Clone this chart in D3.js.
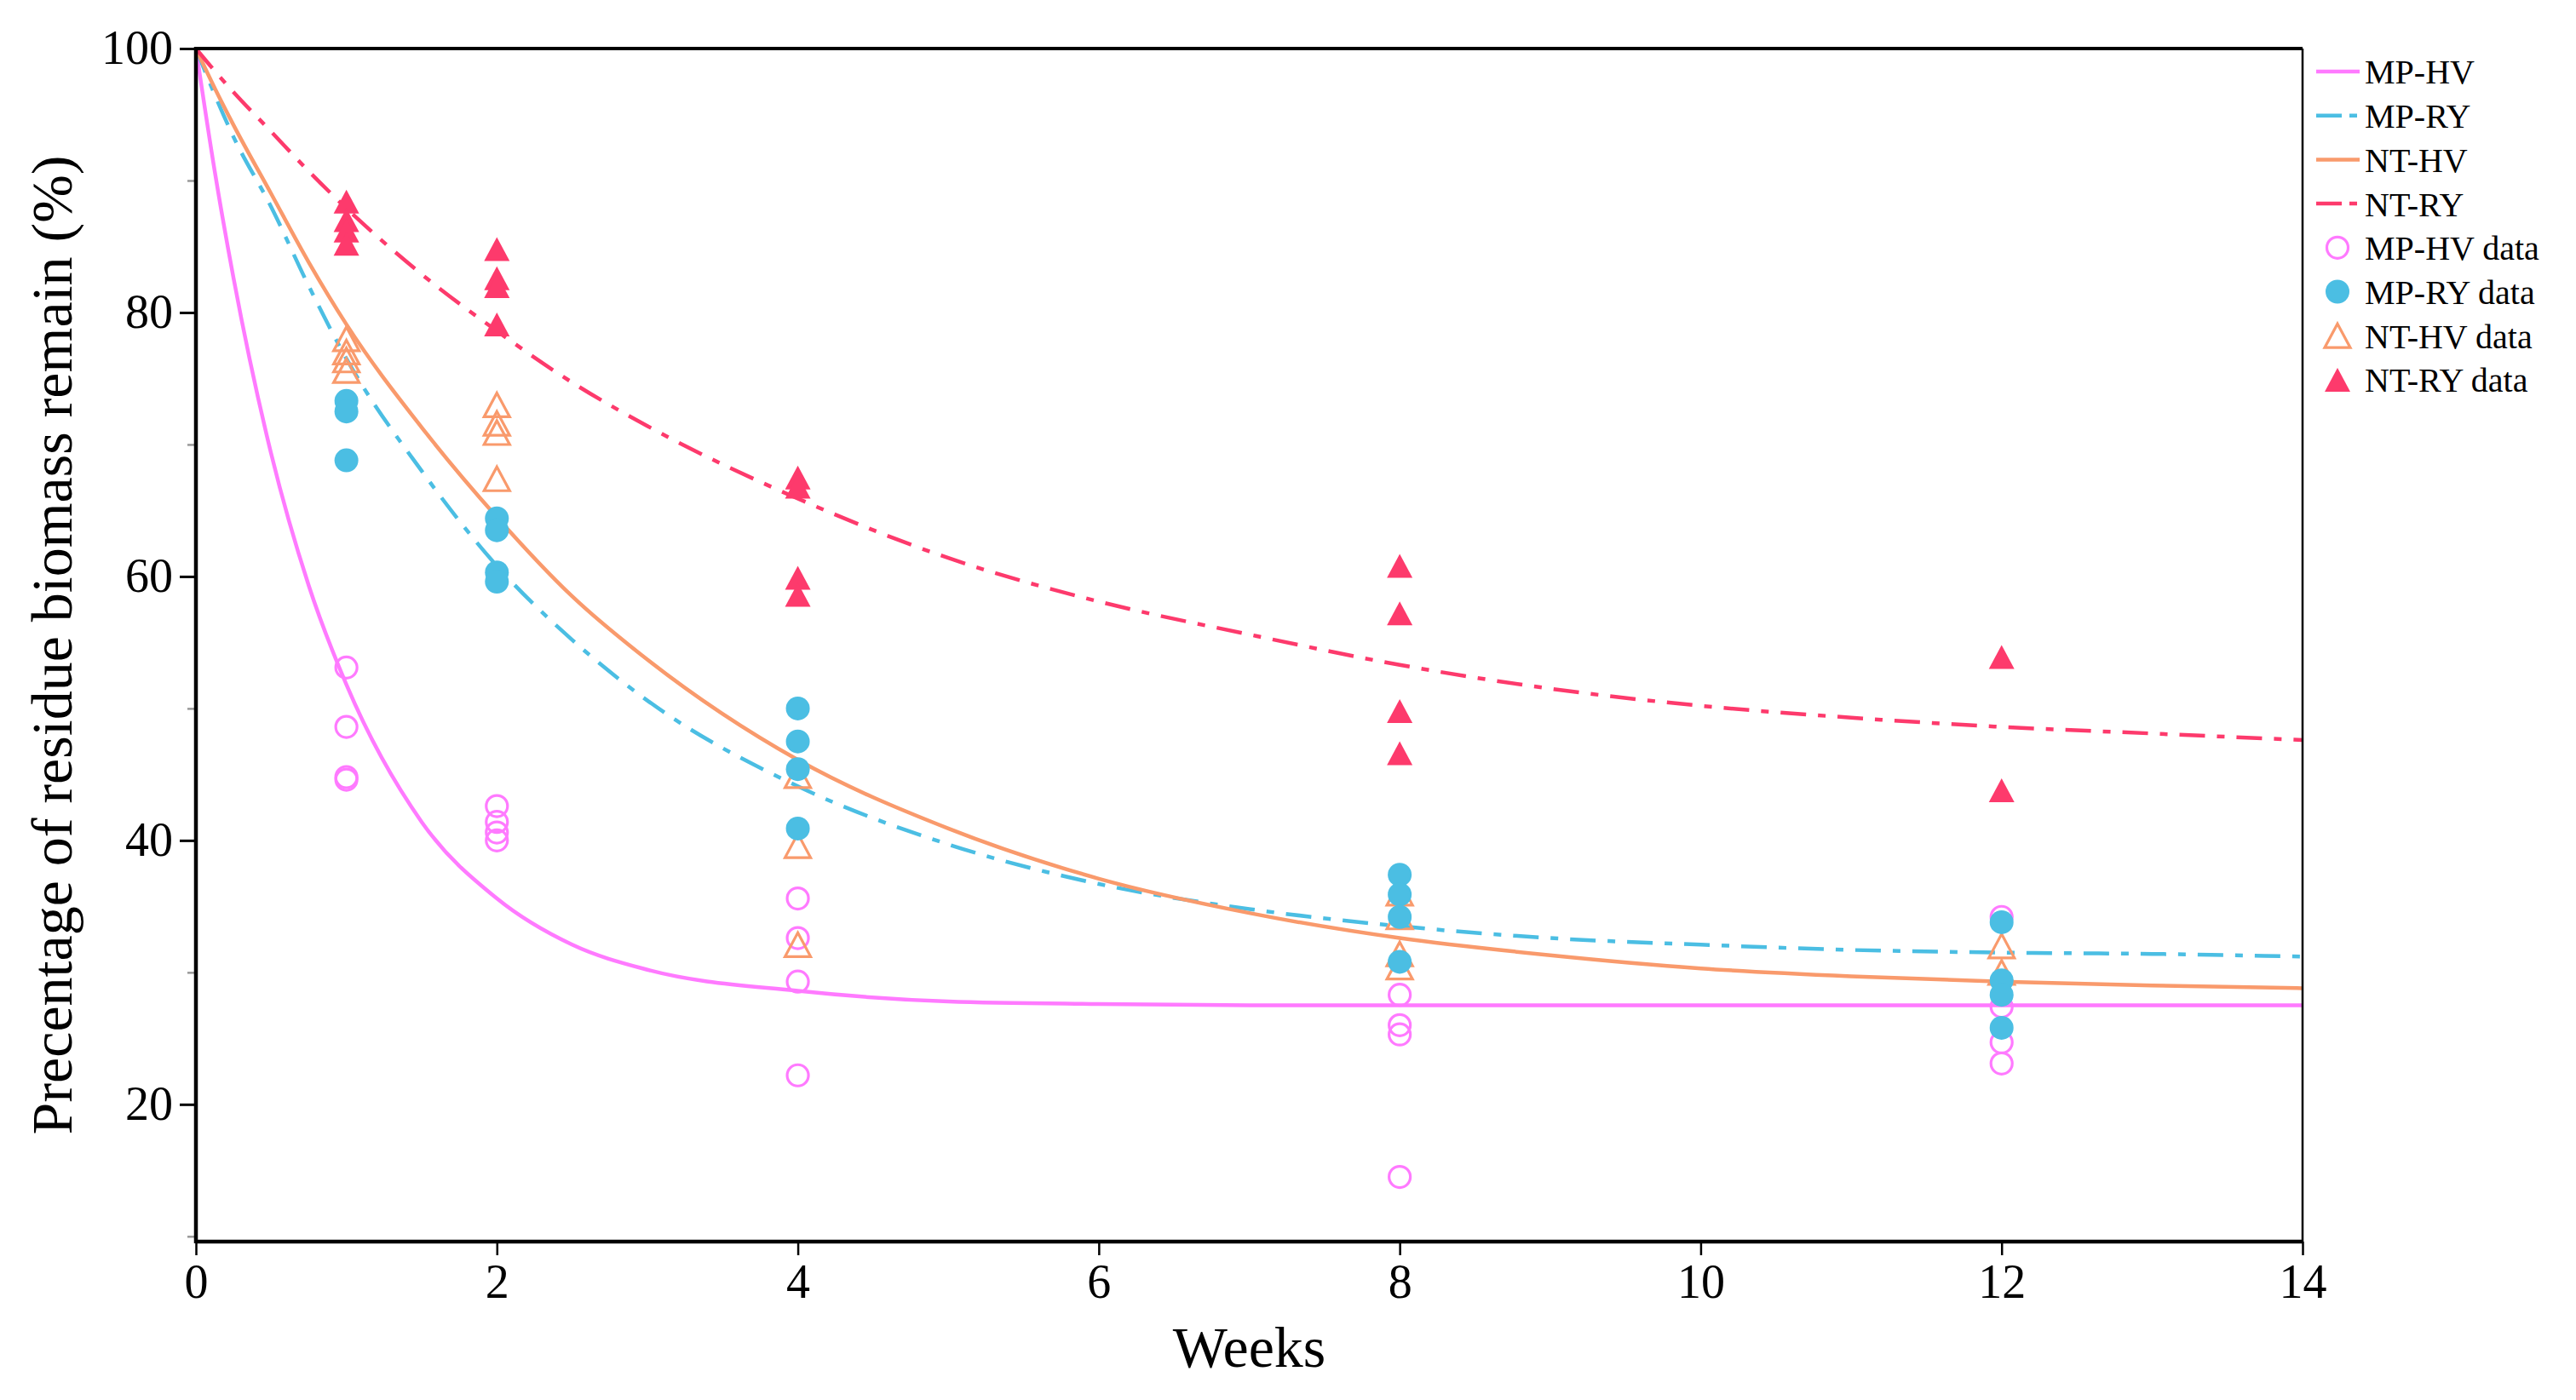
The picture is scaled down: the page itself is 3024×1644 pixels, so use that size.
<!DOCTYPE html>
<html>
<head>
<meta charset="utf-8">
<script src="https://cdn.jsdelivr.net/npm/d3@7"></script>
<style>
  body { margin: 0; background: #fff; }
  text { font-family: "Liberation Serif", "Times New Roman", serif; fill: #000; }
</style>
</head>
<body>
<div id="chart"></div>
<script>
/* Residue biomass decay chart */

// fitted curves
const fitWeeks = [0, 0.125, 0.25, 0.5, 0.75, 1, 1.5, 2, 2.5, 3, 4, 5, 6, 7, 8, 9, 10, 11, 12, 13, 14];
const fitMPHV = [100, 90.7, 82.6, 69.3, 59.3, 51.8, 41.4, 35.6, 32.1, 30.2, 28.6, 27.8, 27.6, 27.5, 27.5, 27.5, 27.5, 27.5, 27.5, 27.5, 27.5];
const fitMPRY = [100, 96.5, 93.3, 88.0, 82.0, 76.5, 68.0, 60.8, 55.2, 50.6, 44.1, 39.7, 36.7, 34.8, 33.5, 32.6, 32.1, 31.7, 31.5, 31.4, 31.2];
const fitNTHV = [100, 97.0, 94.2, 89.0, 83.8, 79.1, 71.3, 64.5, 58.5, 53.7, 46.1, 40.9, 37.1, 34.5, 32.6, 31.3, 30.3, 29.7, 29.3, 29.0, 28.8];
const fitNTRY = [100, 98.3, 96.7, 93.7, 90.7, 87.9, 82.9, 78.6, 74.7, 71.4, 65.9, 61.4, 58.1, 55.6, 53.3, 51.5, 50.2, 49.3, 48.6, 48.1, 47.6];

// measured replicates per sampling week
const sampleWeeks = [1, 2, 4, 8, 12];
const dataMPHV = [[53.1, 48.6, 44.8, 44.6], [42.6, 41.4, 40.6, 40.0], [35.6, 32.6, 29.3, 22.2], [28.3, 26.0, 25.3, 14.5], [34.2, 27.4, 24.7, 23.1]];
const dataMPRY = [[73.3, 72.5, 68.8], [64.4, 63.5, 60.3, 59.6], [50.0, 47.5, 45.4, 40.9], [37.4, 35.9, 34.2, 30.8], [33.8, 29.4, 28.3, 25.8]];
const dataNTHV = [[78.0, 77.0, 76.4, 75.6], [73.0, 71.6, 70.9, 67.4], [44.9, 39.6, 32.1], [36.0, 34.2, 31.4, 30.4], [32.0, 30.0]];
const dataNTRY = [[88.4, 87.0, 86.2, 85.2], [84.8, 82.6, 82.0, 79.1], [67.5, 66.8, 59.9, 58.6], [60.8, 57.2, 49.8, 46.6], [53.9, 43.8]];

const xTicks = [0, 2, 4, 6, 8, 10, 12, 14];
const yTicks = [20, 40, 60, 80, 100];
const yMinorTicks = [10, 30, 50, 70, 90];

const colors = { MPHV: "#ff7aff", MPRY: "#4bbee3", NTHV: "#f99a6c", NTRY: "#fd3a6c" };
const dashDot = "30,14,9,14";

const W = 3024, H = 1644;
const svg = d3.select("#chart").append("svg")
    .attr("width", W)
    .attr("height", H)
    .attr("viewBox", `0 0 ${W} ${H}`);

const x = d3.scaleLinear().domain([0, 14]).range([230, 2703]);
const y = d3.scaleLinear().domain([9.6, 100]).range([1458, 57]);

// CURVES
const line = d3.line()
    .x(d => x(d[0]))
    .y(d => y(d[1]))
    .curve(d3.curveMonotoneX);

const fits = [
    { key: "MPHV", values: fitMPHV, dash: null },
    { key: "MPRY", values: fitMPRY, dash: dashDot },
    { key: "NTHV", values: fitNTHV, dash: null },
    { key: "NTRY", values: fitNTRY, dash: dashDot }
];

const plot = svg.append("g");

fits.forEach(f => {
    plot.append("path")
        .datum(fitWeeks.map((w, i) => [w, f.values[i]]))
        .attr("d", line)
        .attr("fill", "none")
        .attr("stroke", colors[f.key])
        .attr("stroke-width", 4.5)
        .attr("stroke-dasharray", f.dash);
});

// MARKERS
function flatten(arr) {
    const out = [];
    arr.forEach((vals, i) => vals.forEach(v => out.push([sampleWeeks[i], v])));
    return out;
}

const triPath = "M0,-14L15,14L-15,14Z";

function drawMarker(g, type, color) {
    if (type === "openCircle") {
        g.append("circle").attr("r", 12.5).attr("fill", "none")
            .attr("stroke", color).attr("stroke-width", 3.2);
    } else if (type === "circle") {
        g.append("circle").attr("r", 14).attr("fill", color);
    } else if (type === "openTri") {
        g.append("path").attr("d", triPath).attr("fill", "none")
            .attr("stroke", color).attr("stroke-width", 3.2).attr("stroke-linejoin", "miter");
    } else {
        g.append("path").attr("d", triPath).attr("fill", color);
    }
}

const markerSets = [
    { key: "MPHV", data: dataMPHV, type: "openCircle" },
    { key: "NTHV", data: dataNTHV, type: "openTri" },
    { key: "NTRY", data: dataNTRY, type: "tri" },
    { key: "MPRY", data: dataMPRY, type: "circle" }
];

markerSets.forEach(s => {
    plot.selectAll(null)
        .data(flatten(s.data))
        .enter()
        .append("g")
        .attr("transform", d => `translate(${x(d[0])},${y(d[1])})`)
        .each(function() { drawMarker(d3.select(this), s.type, colors[s.key]); });
});

// AXES
const yAxis = svg.append("g")
    .attr("transform", `translate(${x(0)},0)`)
    .call(d3.axisLeft(y).tickValues(yTicks).tickSize(19).tickPadding(8));
yAxis.select(".domain").remove();
yAxis.selectAll(".tick line").attr("stroke", "#000").attr("stroke-width", 3);
yAxis.selectAll("text").attr("font-size", 56);

const yMinor = svg.append("g")
    .attr("transform", `translate(${x(0)},0)`)
    .call(d3.axisLeft(y).tickValues(yMinorTicks).tickSize(10).tickFormat(""));
yMinor.select(".domain").remove();
yMinor.selectAll(".tick line").attr("stroke", "#999").attr("stroke-width", 2.5);

const xAxis = svg.append("g")
    .attr("transform", `translate(0,${y(9.6)})`)
    .call(d3.axisBottom(x).tickValues(xTicks).tickSize(16).tickPadding(10));
xAxis.select(".domain").remove();
xAxis.selectAll(".tick line").attr("stroke", "#000").attr("stroke-width", 2.5);
xAxis.selectAll("text").attr("font-size", 56);

// FRAME
const x0 = x(0), x1 = x(14), yTop = y(100), yBot = y(9.6);
svg.append("line").attr("x1", x0).attr("x2", x0).attr("y1", yTop - 2).attr("y2", yBot + 2)
    .attr("stroke", "#000").attr("stroke-width", 4.5);
svg.append("line").attr("x1", x0).attr("x2", x1).attr("y1", yBot).attr("y2", yBot)
    .attr("stroke", "#000").attr("stroke-width", 4.5);
svg.append("line").attr("x1", x0).attr("x2", x1).attr("y1", yTop).attr("y2", yTop)
    .attr("stroke", "#000").attr("stroke-width", 4);
svg.append("line").attr("x1", x1).attr("x2", x1).attr("y1", yTop).attr("y2", yBot)
    .attr("stroke", "#000").attr("stroke-width", 2.5);

// AXIS LABELS
svg.append("text")
    .attr("x", (x0 + x1) / 2)
    .attr("y", 1605)
    .attr("text-anchor", "middle")
    .attr("font-size", 68)
    .text("Weeks");

svg.append("text")
    .attr("transform", `translate(84,${(yTop + yBot) / 2}) rotate(-90)`)
    .attr("text-anchor", "middle")
    .attr("font-size", 68)
    .text("Precentage of residue biomass remain (%)");

// LEGEND
const legendItems = [
    { label: "MP-HV", key: "MPHV", kind: "line", dash: null },
    { label: "MP-RY", key: "MPRY", kind: "line", dash: dashDot },
    { label: "NT-HV", key: "NTHV", kind: "line", dash: null },
    { label: "NT-RY", key: "NTRY", kind: "line", dash: dashDot },
    { label: "MP-HV data", key: "MPHV", kind: "openCircle" },
    { label: "MP-RY data", key: "MPRY", kind: "circle" },
    { label: "NT-HV data", key: "NTHV", kind: "openTri" },
    { label: "NT-RY data", key: "NTRY", kind: "tri" }
];

const legend = svg.append("g");
legendItems.forEach((d, i) => {
    const cy = 84 + i * 51.7;
    const item = legend.append("g").attr("transform", `translate(0,${cy})`);
    if (d.kind === "line") {
        item.append("line")
            .attr("x1", 2719).attr("x2", 2770).attr("y1", 0).attr("y2", 0)
            .attr("stroke", colors[d.key])
            .attr("stroke-width", 4.5)
            .attr("stroke-dasharray", d.dash ? "30,9,9,9" : null);
    } else {
        const m = item.append("g").attr("transform", "translate(2744,0)");
        drawMarker(m, d.kind, colors[d.key]);
    }
    item.append("text")
        .attr("x", 2776)
        .attr("y", 0)
        .attr("dy", "0.36em")
        .attr("font-size", 40)
        .text(d.label);
});
</script>
</body>
</html>
